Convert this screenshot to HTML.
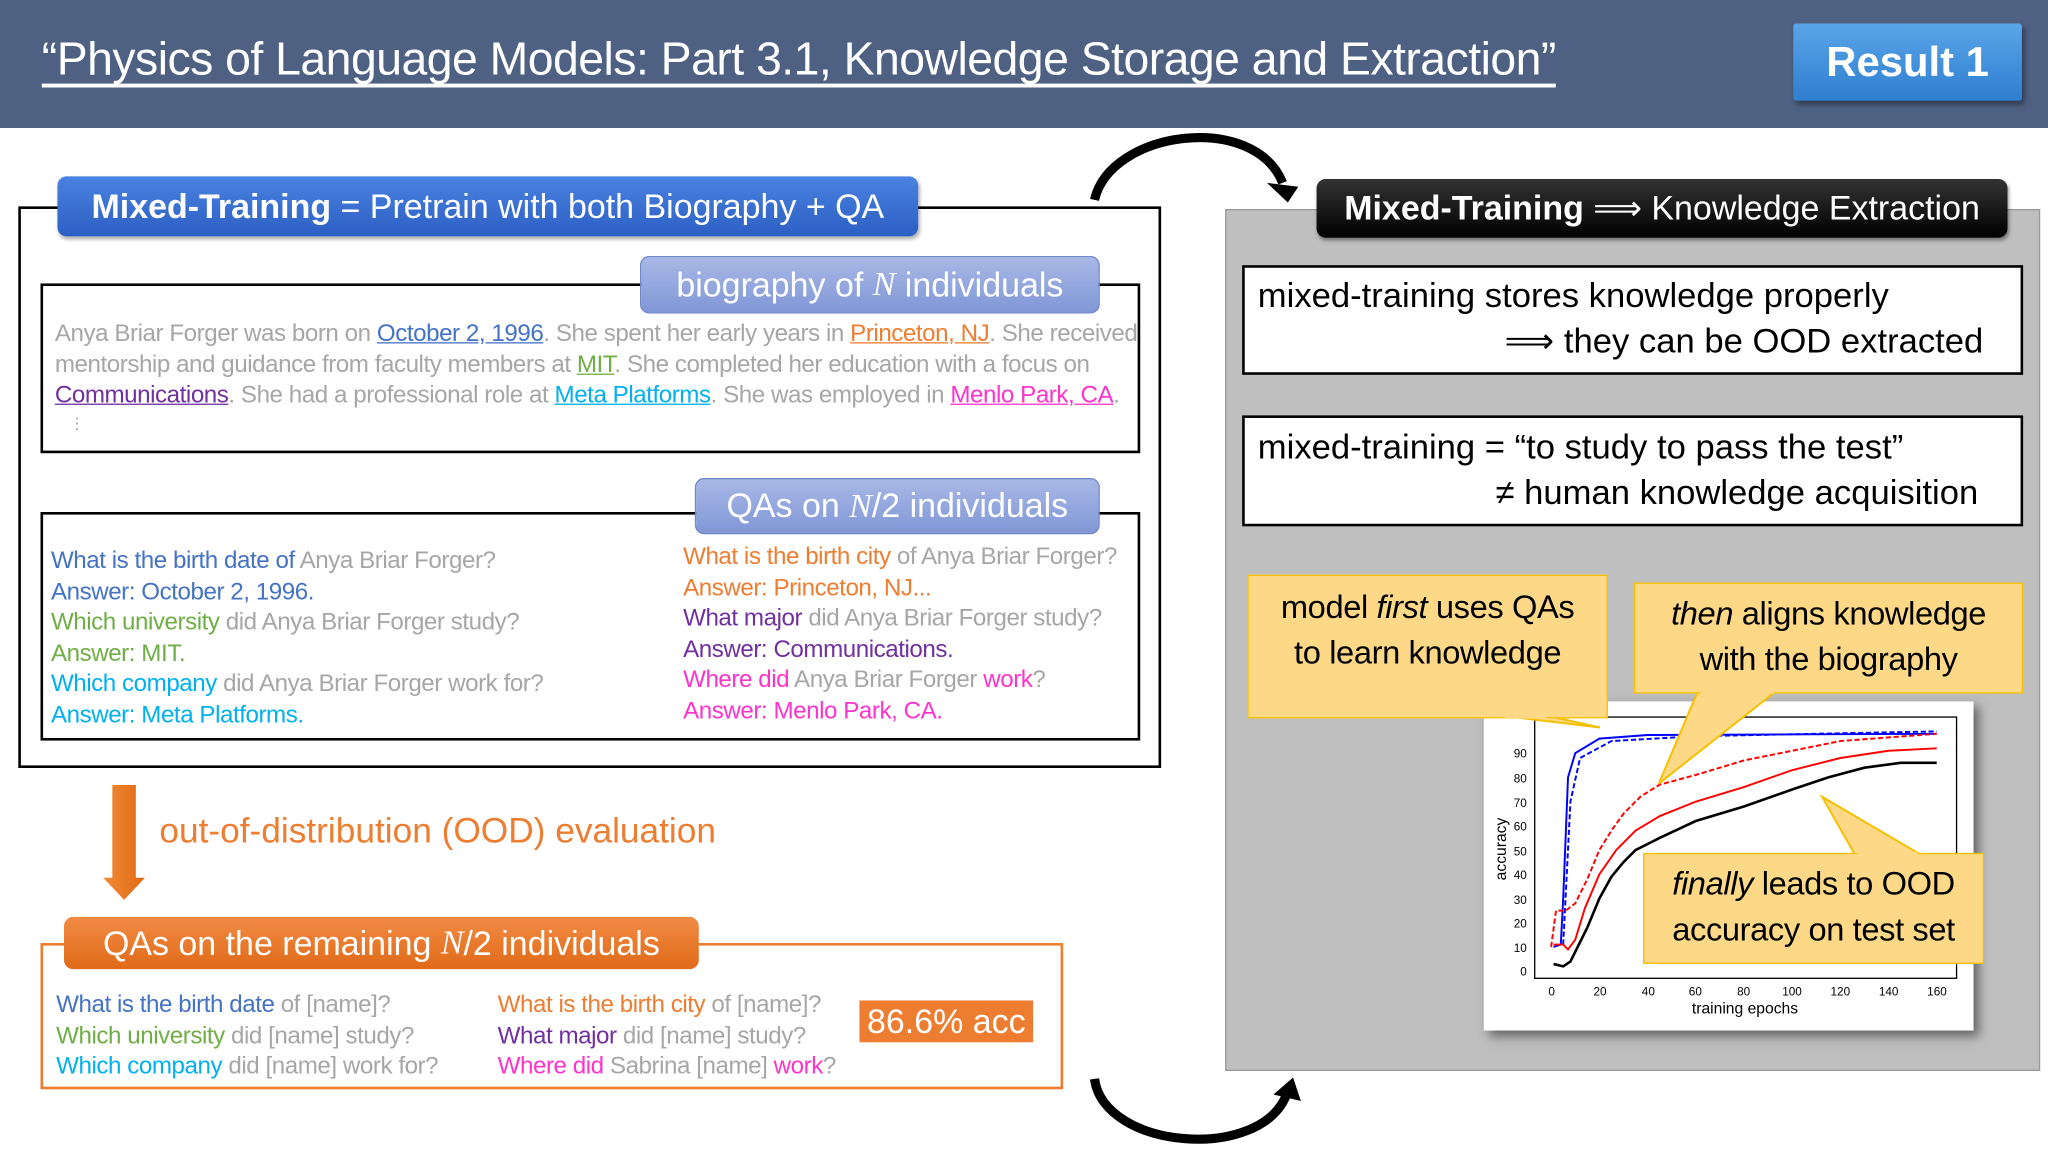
<!DOCTYPE html>
<html><head><meta charset="utf-8">
<style>
*{margin:0;padding:0;box-sizing:border-box}
body{width:2048px;height:1152px;overflow:hidden;background:#fff;font-family:"Liberation Sans",sans-serif}
#s{position:absolute;left:0;top:0;width:1568px;height:882px;transform:scale(1.306122);transform-origin:0 0}
.a{position:absolute;white-space:nowrap}
.pill{position:absolute;border-radius:7px;color:#fff;white-space:nowrap;display:flex;align-items:center;justify-content:center}
.t{font-size:18.5px;line-height:23.5px;color:#a6a6a6;letter-spacing:-0.35px}
.b1{color:#4472c4}.gr{color:#70ad47}.cy{color:#00b0f0}.or{color:#ed7d31}.pu{color:#7030a0}.pk{color:#ff33cc}
.u{text-decoration:underline}
.box{position:absolute;background:#fff;border:2px solid #000}
.call{position:absolute;background:#fdd887;border:1.5px solid #f5c000;font-size:25px;color:#000;text-align:center;line-height:35px;letter-spacing:-0.3px}
.m{font-family:"Liberation Serif",serif;font-style:italic}
</style></head><body><div id="s">
<div class="a" style="left:0;top:0;width:1568px;height:98px;background:#4f6182"></div>
<div class="a" style="left:32px;top:25px;font-size:35.5px;color:#fff;text-decoration:underline;text-underline-offset:7px;letter-spacing:-0.4px">“Physics of Language Models: Part 3.1, Knowledge Storage and Extraction”</div>
<div class="pill" style="left:1373px;top:18px;width:175px;height:59px;border-radius:2px;background:linear-gradient(#5aa5e8,#2f7fd0);font-size:32px;font-weight:bold;box-shadow:2px 3px 4px rgba(0,0,0,.4)">Result 1</div>

<div class="a" style="left:14px;top:158px;width:875px;height:430px;border:2px solid #000"></div>
<div class="pill" style="left:44px;top:135px;width:659px;height:46px;background:linear-gradient(#4a82e0,#2c5fc4);font-size:26px;box-shadow:1px 2px 3px rgba(0,0,0,.3)"><b>Mixed-Training</b>&nbsp;= Pretrain with both Biography + QA</div>

<div class="a" style="left:31px;top:217px;width:842px;height:130px;border:2px solid #000"></div>
<div class="pill" style="left:490px;top:196px;width:352px;height:44px;background:linear-gradient(#a8b8e6,#8197d6);border:1px solid #6f86c8;font-size:26px">biography of&nbsp;<span class="m">N</span>&nbsp;individuals</div>
<div class="a t" style="left:42px;top:243px">Anya Briar Forger was born on <span class="b1 u">October 2, 1996</span>. She spent her early years in <span class="or u">Princeton, NJ</span>. She received<br>mentorship and guidance from faculty members at <span class="gr u">MIT</span>. She completed her education with a focus on<br><span class="pu u">Communications</span>. She had a professional role at <span class="cy u">Meta Platforms</span>. She was employed in <span class="pk u">Menlo Park, CA</span>.</div>
<div class="a" style="left:53px;top:317px;font-size:12px;color:#a6a6a6">⋮</div>

<div class="a" style="left:31px;top:392px;width:842px;height:175px;border:2px solid #000"></div>
<div class="pill" style="left:532px;top:366px;width:310px;height:43px;background:linear-gradient(#a8b8e6,#8197d6);border:1px solid #6f86c8;font-size:26px">QAs on&nbsp;<span class="m">N</span>/2 individuals</div>
<div class="a t" style="left:39px;top:417px"><span class="b1">What is the birth date of</span> Anya Briar Forger?<br><span class="b1">Answer: October 2, 1996.</span><br><span class="gr">Which university</span> did Anya Briar Forger study?<br><span class="gr">Answer: MIT.</span><br><span class="cy">Which company</span> did Anya Briar Forger work for?<br><span class="cy">Answer: Meta Platforms.</span></div>
<div class="a t" style="left:523px;top:414px"><span class="or">What is the birth city</span> of Anya Briar Forger?<br><span class="or">Answer: Princeton, NJ...</span><br><span class="pu">What major</span> did Anya Briar Forger study?<br><span class="pu">Answer: Communications.</span><br><span class="pk">Where did</span> Anya Briar Forger <span class="pk">work</span>?<br><span class="pk">Answer: Menlo Park, CA.</span></div>

<svg class="a" style="left:0;top:0" width="1568" height="882">
<defs><linearGradient id="og" x1="0" x2="1"><stop offset="0" stop-color="#f08a3a"/><stop offset="1" stop-color="#e06a10"/></linearGradient></defs>
<path d="M86,601 H104 V672 H111 L95,689 L79,672 H86 Z" fill="url(#og)"/>
<path d="M838,153 C850,100 960,85 982,140" fill="none" stroke="#000" stroke-width="7"/>
<path d="M970,140 L994,143 L986,155 Z" fill="#000"/>
<path d="M838,826 C845,880 965,890 985,838" fill="none" stroke="#000" stroke-width="7"/>
<path d="M975,838 L990,825 L996,843 Z" fill="#000"/>
</svg>
<div class="a or" style="left:122px;top:621px;font-size:27px">out-of-distribution (OOD) evaluation</div>

<div class="a" style="left:31px;top:722px;width:783px;height:112px;border:2px solid #ed7d31"></div>
<div class="pill" style="left:49px;top:702px;width:486px;height:40px;background:linear-gradient(#f28b45,#e06a18);font-size:26px">QAs on the remaining&nbsp;<span class="m">N</span>/2 individuals</div>
<div class="a t" style="left:43px;top:757px"><span class="b1">What is the birth date</span> of [name]?<br><span class="gr">Which university</span> did [name] study?<br><span class="cy">Which company</span> did [name] work for?</div>
<div class="a t" style="left:381px;top:757px"><span class="or">What is the birth city</span> of [name]?<br><span class="pu">What major</span> did [name] study?<br><span class="pk">Where did</span> Sabrina [name] <span class="pk">work</span>?</div>
<div class="pill" style="left:658px;top:766px;width:133px;height:32px;border-radius:0;background:#ed7d31;font-size:26px">86.6% acc</div>

<div class="a" style="left:938px;top:160px;width:624px;height:660px;background:#bfbfbf;border:1px solid #999"></div>
<div class="pill" style="left:1008px;top:137px;width:529px;height:45px;background:linear-gradient(#333,#000);font-size:26px;box-shadow:1px 2px 3px rgba(0,0,0,.4)"><b>Mixed-Training</b>&nbsp;⟹ Knowledge Extraction</div>
<div class="box" style="left:951px;top:203px;width:598px;height:84px"></div>
<div class="a" style="left:963px;top:211px;font-size:26.5px">mixed-training stores knowledge properly</div>
<div class="a" style="left:1152px;top:246px;font-size:26.5px">⟹ they can be OOD extracted</div>
<div class="box" style="left:951px;top:318px;width:598px;height:85px"></div>
<div class="a" style="left:963px;top:327px;font-size:26.5px">mixed-training = “to study to pass the test”</div>
<div class="a" style="left:1145px;top:362px;font-size:26.5px">≠ human knowledge acquisition</div>

<div class="a" style="left:1136px;top:537px;width:375px;height:252px;background:#fff;box-shadow:4px 4px 8px rgba(0,0,0,.5)"></div>
<svg class="a" style="left:0;top:0" width="1568" height="882">
<rect x="1175" y="549" width="323" height="200" fill="none" stroke="#000" stroke-width="1"/>
<g font-size="9" fill="#000" font-family="Liberation Sans" text-anchor="end">
<text x="1169" y="747">0</text><text x="1169" y="729">10</text><text x="1169" y="710">20</text><text x="1169" y="692">30</text><text x="1169" y="673">40</text><text x="1169" y="655">50</text><text x="1169" y="636">60</text><text x="1169" y="618">70</text><text x="1169" y="599">80</text><text x="1169" y="580">90</text></g>
<g font-size="9" fill="#000" font-family="Liberation Sans" text-anchor="middle">
<text x="1188" y="762">0</text><text x="1225" y="762">20</text><text x="1262" y="762">40</text><text x="1298" y="762">60</text><text x="1335" y="762">80</text><text x="1372" y="762">100</text><text x="1409" y="762">120</text><text x="1446" y="762">140</text><text x="1483" y="762">160</text>
<text x="1336" y="776" font-size="12">training epochs</text></g>
<text x="1153" y="650" font-size="12" font-family="Liberation Sans" transform="rotate(-90 1153 650)" text-anchor="middle">accuracy</text>
<g transform="translate(1187.6,743.6) scale(1.845,-1.855)" fill="none" stroke-width="1.5">
<path vector-effect="non-scaling-stroke" stroke="#00f" d="M1,10 L4,11 L5,30 L7,80 L10,90 L20,96 L40,97.5 L160,98"/>
<path vector-effect="non-scaling-stroke" stroke="#00f" stroke-dasharray="4 2" d="M5,11 L8,70 L12,88 L25,95 L60,97 L160,99"/>
<path vector-effect="non-scaling-stroke" stroke="#f00" stroke-dasharray="4 2" d="M0,10 L2,25 L6,25 L10,28 L15,38 L20,50 L25,58 L30,65 L37,72 L45,77 L60,81 L80,87 L100,91 L120,95 L160,98"/>
<path vector-effect="non-scaling-stroke" stroke="#f00" d="M1,11 L5,11 L7,9 L10,13 L14,26 L20,40 L27,50 L35,58 L45,64 L60,70 L80,76 L100,83 L120,88 L140,91 L160,92"/>
<path vector-effect="non-scaling-stroke" stroke="#000" stroke-width="2" d="M1,3 L5,2 L8,4 L10,8 L15,18 L20,30 L25,39 L30,45 L35,50 L45,55 L60,62 L80,68 L100,75 L115,80 L130,84 L145,86 L160,86"/>
</g>
<path d="M1150,548 L1225,557 L1185,548 Z" fill="#fdd887" stroke="#f5c000" stroke-width="1.5"/>
<path d="M1300,529 L1270,600 L1360,529 Z" fill="#fdd887" stroke="#f5c000" stroke-width="1.5"/>
<path d="M1420,654 L1395,610 L1470,654 Z" fill="#fdd887" stroke="#f5c000" stroke-width="1.5"/>
</svg>
<div class="call" style="left:955px;top:440px;width:276px;height:110px;padding-top:7px">model <i>first</i> uses QAs<br>to learn knowledge</div>
<div class="call" style="left:1251px;top:446px;width:298px;height:85px;padding-top:6px"><i>then</i> aligns knowledge<br>with the biography</div>
<div class="call" style="left:1258px;top:653px;width:261px;height:85px;padding-top:6px"><i>finally</i> leads to OOD<br>accuracy on test set</div>
<svg class="a" style="left:0;top:0" width="1568" height="882">
<line x1="1152" y1="549" x2="1184" y2="549" stroke="#fdd887" stroke-width="2.5"/>
<line x1="1302" y1="530" x2="1358" y2="530" stroke="#fdd887" stroke-width="2.5"/>
<line x1="1422" y1="653.5" x2="1468" y2="653.5" stroke="#fdd887" stroke-width="2.5"/>
</svg>
</div></body></html>
